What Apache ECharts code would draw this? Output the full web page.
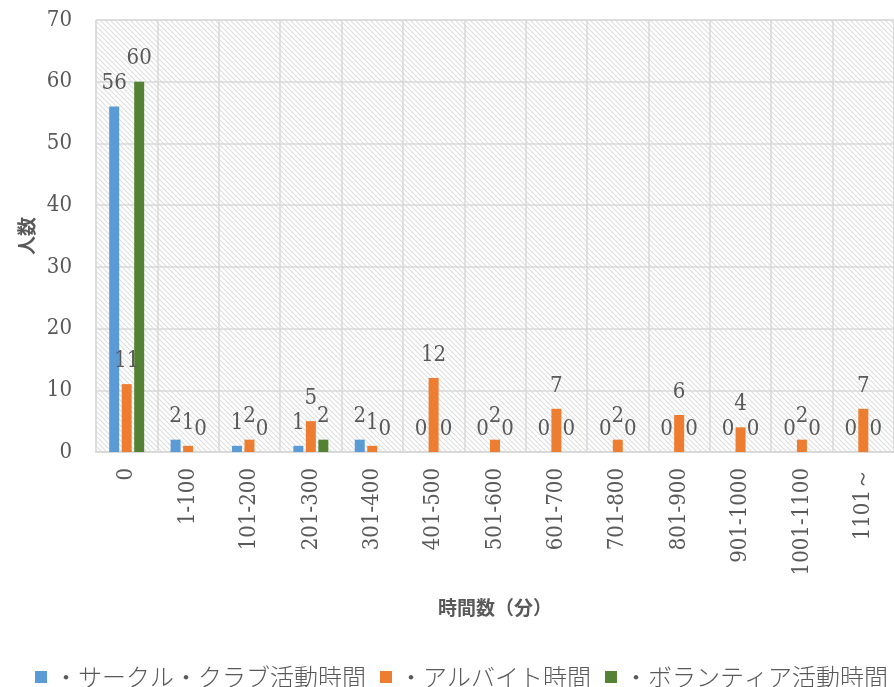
<!DOCTYPE html>
<html>
<head>
<meta charset="utf-8">
<script src="https://cdn.jsdelivr.net/npm/echarts@6/dist/echarts.min.js"></script>
<style>
  html, body { margin: 0; padding: 0; background: #fff; }
  #chart { width: 894px; height: 687px; }
</style>
</head>
<body>
<div id="chart"></div>
<script>
const categories = ['0', '1-100', '101-200', '201-300', '301-400', '401-500', '501-600',
  '601-700', '701-800', '801-900', '901-1000', '1001-1100', '1101～']
const clubValues = [56, 2, 1, 1, 2, 0, 0, 0, 0, 0, 0, 0, 0]
const jobValues = [11, 1, 2, 5, 1, 12, 2, 7, 2, 6, 4, 2, 7]
const volunteerValues = [60, 0, 0, 2, 0, 0, 0, 0, 0, 0, 0, 0, 0]
const yTicks = { min: 0, max: 70, interval: 10 }

// hatched plot background
const hatch = document.createElement('canvas')
hatch.width = 5
hatch.height = 5
const hc = hatch.getContext('2d')
hc.fillStyle = '#ffffff'
hc.fillRect(0, 0, 5, 5)
hc.strokeStyle = '#dedede'
hc.lineWidth = 1.1
hc.beginPath()
hc.moveTo(-1, -1); hc.lineTo(6, 6)
hc.moveTo(-6, -1); hc.lineTo(1, 6)
hc.moveTo(4, -1); hc.lineTo(11, 6)
hc.stroke()

const serif = "'DejaVu Serif Condensed', 'DejaVu Serif'"
const textColor = '#595959'
const labelStyle = {
  show: true,
  position: 'top',
  distance: 12,
  fontFamily: serif,
  fontSize: 22,
  color: textColor
}

const chart = echarts.init(document.getElementById('chart'))
chart.setOption({
  animation: false,
  color: ['#5b9bd5', '#ed7d31', '#548235'],
  grid: {
    left: 96, right: -8, top: 20, bottom: 235,
    show: true,
    backgroundColor: { image: hatch, repeat: 'repeat' },
    borderColor: '#d9d9d9',
    borderWidth: 1
  },
  legend: {
    top: 665,
    left: 35,
    width: 900,
    padding: 0,
    itemWidth: 12,
    itemHeight: 12,
    itemGap: 14,
    icon: 'rect',
    textStyle: { fontFamily: 'Noto Sans CJK JP', fontSize: 24, color: textColor, fontWeight: 300, padding: [0, 0, 0, 2] }
  },
  xAxis: {
    type: 'category',
    data: categories,
    name: '時間数（分）',
    nameLocation: 'middle',
    nameGap: 146,
    nameTextStyle: { fontFamily: 'Noto Sans CJK JP', fontSize: 19, fontWeight: 'bold', color: textColor },
    axisLine: { lineStyle: { color: '#d9d9d9', width: 2 } },
    axisTick: { show: false },
    axisLabel: { rotate: 90, margin: 16, fontFamily: serif, fontSize: 22, color: textColor },
    splitLine: { show: true, lineStyle: { color: '#d9d9d9', width: 1.5 } }
  },
  yAxis: {
    type: 'value',
    min: yTicks.min,
    max: yTicks.max,
    interval: yTicks.interval,
    name: '人数',
    nameLocation: 'middle',
    nameGap: 60,
    nameTextStyle: { fontFamily: 'Noto Sans CJK JP', fontSize: 19, fontWeight: 'bold', color: textColor },
    axisLine: { show: false },
    axisTick: { show: false },
    axisLabel: { margin: 24, fontFamily: serif, fontSize: 22, color: textColor },
    splitLine: { lineStyle: { color: '#d9d9d9', width: 1.5 } }
  },
  series: [
    { name: '・サークル・クラブ活動時間', type: 'bar', data: clubValues, barWidth: 10, barGap: '25%', label: labelStyle },
    { name: '・アルバイト時間', type: 'bar', data: jobValues, barWidth: 10, barGap: '25%', label: labelStyle },
    { name: '・ボランティア活動時間', type: 'bar', data: volunteerValues, barWidth: 10, barGap: '25%', label: labelStyle }
  ]
})
</script>
</body>
</html>
